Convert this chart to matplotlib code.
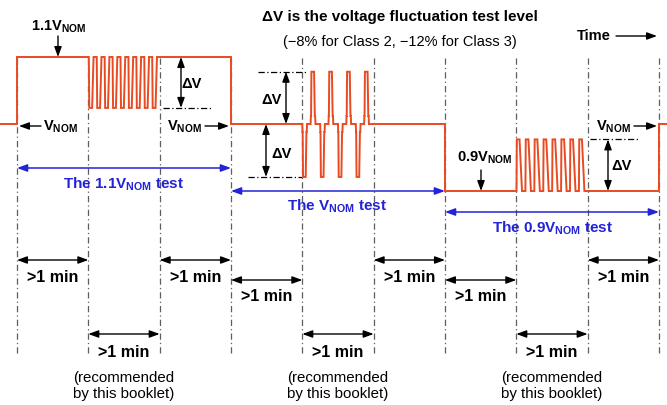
import numpy as np
import matplotlib
matplotlib.use('Agg')
import matplotlib.pyplot as plt

plt.rcParams['font.family'] = ['Liberation Sans', 'DejaVu Sans']
plt.rcParams['mathtext.fontset'] = 'custom'
plt.rcParams['mathtext.rm'] = 'Liberation Sans:bold'
plt.rcParams['mathtext.bf'] = 'Liberation Sans:bold'
plt.rcParams['mathtext.it'] = 'Liberation Sans:bold'
plt.rcParams['mathtext.default'] = 'rm'

# ---------------- data ----------------
minute_bounds = list(range(10))                       # interval boundaries (minutes)
seg_level = [110, 110, 110, 100, 100, 100, 90, 90, 90]  # steady level per minute (% of V_NOM)
nominal = 100
test1_dv, test1_cycles = 7.6, 9          # fluctuation during minute 1 (dips)
test2_dv_up, test2_dv_dn, test2_cycles = 7.8, 7.9, 4   # minute 4 (up/down spikes)
test3_dv, test3_cycles = 7.7, 8          # minute 7 (pulses up)
test_names = [r'The 1.1V$_{\rm NOM}$ test', r'The V$_{\rm NOM}$ test', r'The 0.9V$_{\rm NOM}$ test']
test_spans = [(0, 3), (3, 6), (6, 9)]
min_label = '>1 min'
row1_spans = [(0, 1), (2, 3), (5, 6), (8, 9)]
row2_spans = [(3, 4), (6, 7)]
row3_spans = [(1, 2), (4, 5), (7, 8)]
title = '\u0394V is the voltage fluctuation test level'
subtitle = '(\u22128% for Class 2, \u221212% for Class 3)'

# ---------------- layout helpers (pixel -> data) ----------------
X0, PX_PER_MIN = 17.0, 71.33
Y0, PX_PER_PCT = 124.0, 6.7
def xp(px):
    return (px - X0) / PX_PER_MIN
def yp(py):
    return nominal - (py - Y0) / PX_PER_PCT

RED = '#e84a22'
BLUE = '#2323d8'
GRAY = '#5e5e5e'

fig = plt.figure(figsize=(6.67, 4.05), dpi=100)
ax = fig.add_axes([0, 0, 1, 1])
ax.set_xlim(xp(0), xp(667))
ax.set_ylim(yp(405), yp(0))
ax.axis('off')

# ---------------- waveform ----------------
t = [xp(-2), 0]
v = [nominal, nominal]
for m, L in enumerate(seg_level):
    t.append(m); v.append(L)
    if m == 1:
        P = 1.0 / test1_cycles
        for k in range(test1_cycles):
            s = m + k * P
            for ph, val in [(0.06, L), (0.12, L - test1_dv), (0.48, L - test1_dv), (0.66, L)]:
                t.append(s + ph * P); v.append(val)
    elif m == 4:
        P = 1.0 / test2_cycles
        lo, hi = L - test2_dv_dn, L + test2_dv_up
        for k in range(test2_cycles):
            s = m + k * P
            pts = [(0.0, L), (0.01, L - 1.2), (0.02, L - 1.2), (0.04, lo), (0.19, lo),
                   (0.23, L - 1.2), (0.25, L - 1.2), (0.265, L),
                   (0.465, L), (0.48, L + 1.2), (0.49, L + 1.2), (0.51, hi), (0.66, hi),
                   (0.70, L + 1.2), (0.72, L + 1.2), (0.735, L)]
            for ph, val in pts:
                t.append(s + ph * P); v.append(val)
    elif m == 7:
        P = 1.0 / test3_cycles
        for k in range(test3_cycles):
            s = m + k * P
            for ph, val in [(0.02, L), (0.06, L + test3_dv), (0.36, L + test3_dv), (0.64, L)]:
                t.append(s + ph * P); v.append(val)
    t.append(m + 1); v.append(L)
t += [9, xp(680)]
v += [nominal, nominal]
ax.plot(t, v, color=RED, lw=1.4, solid_joinstyle='miter', zorder=3)

# vertical interval markers
ax.vlines(minute_bounds, yp(353), seg_level[0], colors=GRAY, lw=0.9,
          linestyles=[(0, (5, 2.5, 1, 2.5))], zorder=1)

# ---------------- arrow helpers ----------------
def arrow(x0, y0, x1, y1, color='k', style='-|>', lw=1.0):
    ax.annotate('', xy=(x1, y1), xytext=(x0, y0),
                arrowprops=dict(arrowstyle=style + ',head_length=0.6,head_width=0.22',
                                color=color, lw=lw, shrinkA=0, shrinkB=0), zorder=4)

def refline(y, px0, px1):
    ax.plot([xp(px0), xp(px1)], [y, y], color='k', lw=0.9,
            linestyle=(0, (5, 2, 1, 2)), zorder=2)

BF = dict(fontweight='bold', fontsize=10.5, ha='center', va='center')
MF = dict(fontweight='bold', fontsize=11.5, ha='center', va='center')

# title
ax.text(xp(400), yp(17), title, fontweight='bold', fontsize=11, ha='center', va='center')
ax.text(xp(400), yp(42), subtitle, fontsize=10.5, ha='center', va='center')
ax.text(xp(594), yp(36), 'Time', **BF)
arrow(xp(616), yp(36), xp(657), yp(36))

# ---- 1.1 V_NOM test annotations ----
ax.text(xp(59), yp(27), r'1.1V$_{\rm NOM}$', **BF)
arrow(xp(58), yp(36), xp(58), seg_level[0])
ax.text(xp(61), yp(127), r'V$_{\rm NOM}$', **BF)
arrow(xp(41), yp(126), xp(19), yp(126))
refline(seg_level[1] - test1_dv, 163, 212)
arrow(xp(181), seg_level[2], xp(181), seg_level[2] - test1_dv, style='<|-|>')
ax.text(xp(192), yp(84), '\u0394V', **BF)
ax.text(xp(185), yp(127), r'V$_{\rm NOM}$', **BF)
arrow(xp(205), yp(126), xp(229), yp(126))

# ---- V_NOM test annotations ----
refline(nominal + test2_dv_up, 258, 308)
refline(nominal - test2_dv_dn, 248, 302)
arrow(xp(286), nominal + test2_dv_up, xp(286), nominal, style='<|-|>')
ax.text(xp(272), yp(100), '\u0394V', **BF)
arrow(xp(266), nominal, xp(266), nominal - test2_dv_dn, style='<|-|>')
ax.text(xp(282), yp(154), '\u0394V', **BF)

# ---- 0.9 V_NOM test annotations ----
ax.text(xp(485), yp(158), r'0.9V$_{\rm NOM}$', **BF)
arrow(xp(481), yp(170), xp(481), seg_level[6])
ax.text(xp(614), yp(127), r'V$_{\rm NOM}$', **BF)
arrow(xp(634), yp(126), xp(657), yp(126))
refline(seg_level[7] + test3_dv, 590, 638)
arrow(xp(608), seg_level[8] + test3_dv, xp(608), seg_level[8], style='<|-|>')
ax.text(xp(622), yp(166), '\u0394V', **BF)

# ---- blue test spans ----
blue_y = [168, 191, 212]
blue_text_y = [184, 206, 228]
blue_text_x = [124, 337, 553]
for (a, b), name, by, ty, tx in zip(test_spans, test_names, blue_y, blue_text_y, blue_text_x):
    arrow(a, yp(by), b, yp(by), color=BLUE, style='<|-|>', lw=1.1)
    ax.text(xp(tx), yp(ty), name, color=BLUE, fontweight='bold', fontsize=11,
            ha='center', va='center')

# ---- >1 min spans ----
for spans, ay, ty in [(row1_spans, 260, 277), (row2_spans, 280, 297), (row3_spans, 334, 353)]:
    for a, b in spans:
        arrow(a, yp(ay), b, yp(ay), style='<|-|>')
        ax.text((a + b) / 2, yp(ty), min_label, **MF)

for a, b in row3_spans:
    ax.text((a + b) / 2, yp(378), '(recommended', fontsize=10.8, ha='center', va='center')
    ax.text((a + b) / 2, yp(394), 'by this booklet)', fontsize=10.8, ha='center', va='center')

fig.savefig('out.png', dpi=100)
